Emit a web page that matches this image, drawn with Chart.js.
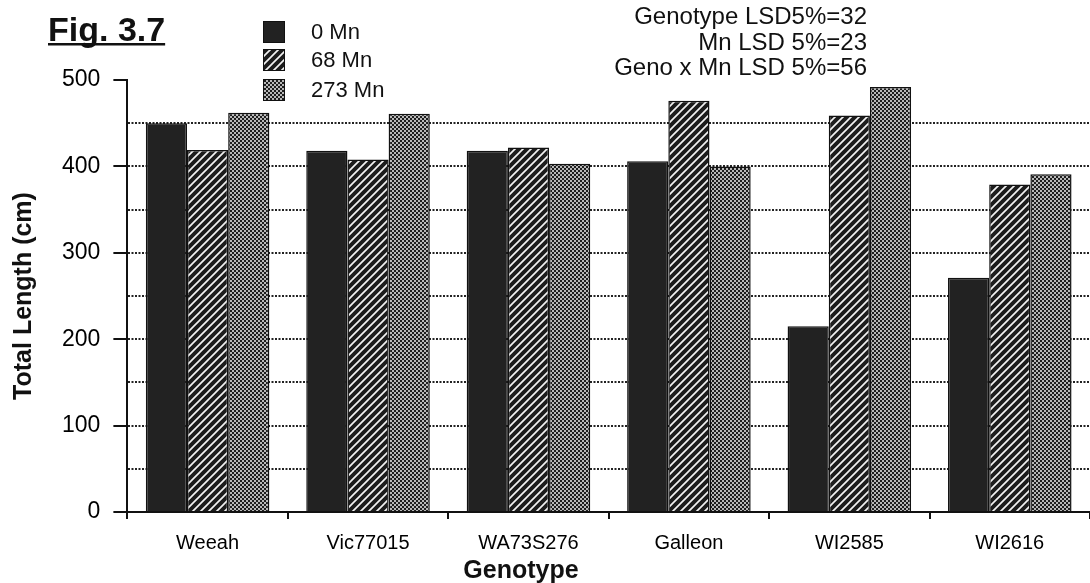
<!DOCTYPE html>
<html>
<head>
<meta charset="utf-8">
<script src="https://cdn.jsdelivr.net/npm/chart.js@4.4.1/dist/chart.umd.min.js"></script>
<style>
  html, body { margin: 0; padding: 0; background: #fff; }
  #wrap { width: 1090px; height: 583px; position: relative; }
</style>
</head>
<body>
<div id="wrap"><canvas id="fig-chart"></canvas></div>
<script>
const genotypes = ["Weeah", "Vic77015", "WA73S276", "Galleon", "WI2585", "WI2616"];
const mn0 = [450, 418, 418, 406, 215, 271];
const mn68 = [419, 408, 422, 476, 459, 379];
const mn273 = [462, 461, 403, 400, 492, 391];
const seriesNames = ["0 Mn", "68 Mn", "273 Mn"];
const lsdLines = ["Genotype LSD5%=32", "Mn LSD 5%=23", "Geno x Mn LSD 5%=56"];

const ctx = document.getElementById("fig-chart").getContext("2d");
const FONT = "'Liberation Sans', Arial, Helvetica, sans-serif";

// fill patterns like the old mac printout
function hatchPattern() {
  const c = document.createElement("canvas");
  c.width = 8; c.height = 8;
  const g = c.getContext("2d");
  g.fillStyle = "#1c1c1c";
  g.fillRect(0, 0, 8, 8);
  g.strokeStyle = "#f2f2f2";
  g.lineWidth = 1.7;
  g.beginPath();
  g.moveTo(-4, 4); g.lineTo(4, -4);
  g.moveTo(0, 8); g.lineTo(8, 0);
  g.moveTo(4, 12); g.lineTo(12, 4);
  g.stroke();
  return ctx.createPattern(c, "repeat");
}

function dotPattern() {
  const c = document.createElement("canvas");
  c.width = 4; c.height = 4;
  const g = c.getContext("2d");
  g.fillStyle = "#b8b8b8";
  g.fillRect(0, 0, 4, 4);
  g.fillStyle = "#1e1e1e";
  g.fillRect(0, 0, 2, 2);
  g.fillRect(2, 2, 2, 2);
  return ctx.createPattern(c, "repeat");
}

const fills = ["#222222", hatchPattern(), dotPattern()];

// texts around the plot (fig number, legend, LSD notes, x title)
const decorations = {
  id: "decorations",
  afterDraw(chart) {
    const c = chart.ctx;
    c.save();
    c.fillStyle = "#111";

    c.font = "bold 34px " + FONT;
    c.textAlign = "left";
    c.textBaseline = "alphabetic";
    c.fillText("Fig. 3.7", 48, 41);
    const w = c.measureText("Fig. 3.7").width;
    c.fillRect(48, 43, w, 2.5);

    const rows = [32, 60, 90];
    chart.data.datasets.forEach((ds, i) => {
      c.fillStyle = ds.backgroundColor;
      c.fillRect(263, rows[i] - 11, 22, 22);
      c.strokeStyle = "#111";
      c.lineWidth = 1;
      c.strokeRect(263.5, rows[i] - 10.5, 21, 21);
      c.fillStyle = "#111";
      c.font = "22px " + FONT;
      c.textBaseline = "middle";
      c.fillText(ds.label, 311, rows[i] + 1);
    });

    c.textAlign = "right";
    c.font = "24px " + FONT;
    const ly = [17, 43, 68];
    lsdLines.forEach((t, i) => c.fillText(t, 867, ly[i]));

    c.textAlign = "center";
    c.font = "bold 25px " + FONT;
    c.fillText("Genotype", 521, 571);
    c.restore();
  },
};

new Chart(ctx, {
  type: "bar",
  data: {
    labels: genotypes,
    datasets: [mn0, mn68, mn273].map((d, i) => ({
      label: seriesNames[i],
      data: d,
      backgroundColor: fills[i],
      borderColor: "#111",
      borderWidth: 1.5,
      categoryPercentage: 0.77,
      barPercentage: 1.0,
    })),
  },
  options: {
    responsive: true,
    maintainAspectRatio: false,
    animation: false,
    events: [],
    layout: { padding: { top: 80, left: 9, right: 0, bottom: 16 } },
    plugins: {
      legend: { display: false },
      tooltip: { enabled: false },
    },
    scales: {
      x: {
        grid: {
          drawOnChartArea: false,
          offset: true,
          tickLength: 7,
          color: "#111",
          lineWidth: 2,
        },
        border: { color: "#111", width: 2 },
        ticks: {
          color: "#000",
          font: { family: FONT, size: 20 },
          padding: 12,
        },
      },
      y: {
        min: 0,
        max: 500,
        ticks: {
          stepSize: 50,
          color: "#000",
          font: { family: FONT, size: 23 },
          padding: 13,
          callback: (v) => (v % 100 === 0 ? v : ""),
        },
        grid: {
          tickLength: 14,
          lineWidth: 2,
          tickWidth: 2,
          color: (c) =>
            c.tick && (c.tick.value === 0 || c.tick.value === 500) ? "rgba(0,0,0,0)" : "#222",
          tickColor: (c) => (c.tick && c.tick.value % 100 === 0 ? "#111" : "rgba(0,0,0,0)"),
        },
        border: { color: "#111", width: 2, dash: [2, 1.5] },
        title: {
          display: true,
          text: "Total Length (cm)",
          color: "#111",
          font: { family: FONT, size: 25, weight: "bold" },
          padding: { top: 0, bottom: 10 },
        },
      },
    },
  },
  plugins: [decorations],
});
</script>
</body>
</html>
